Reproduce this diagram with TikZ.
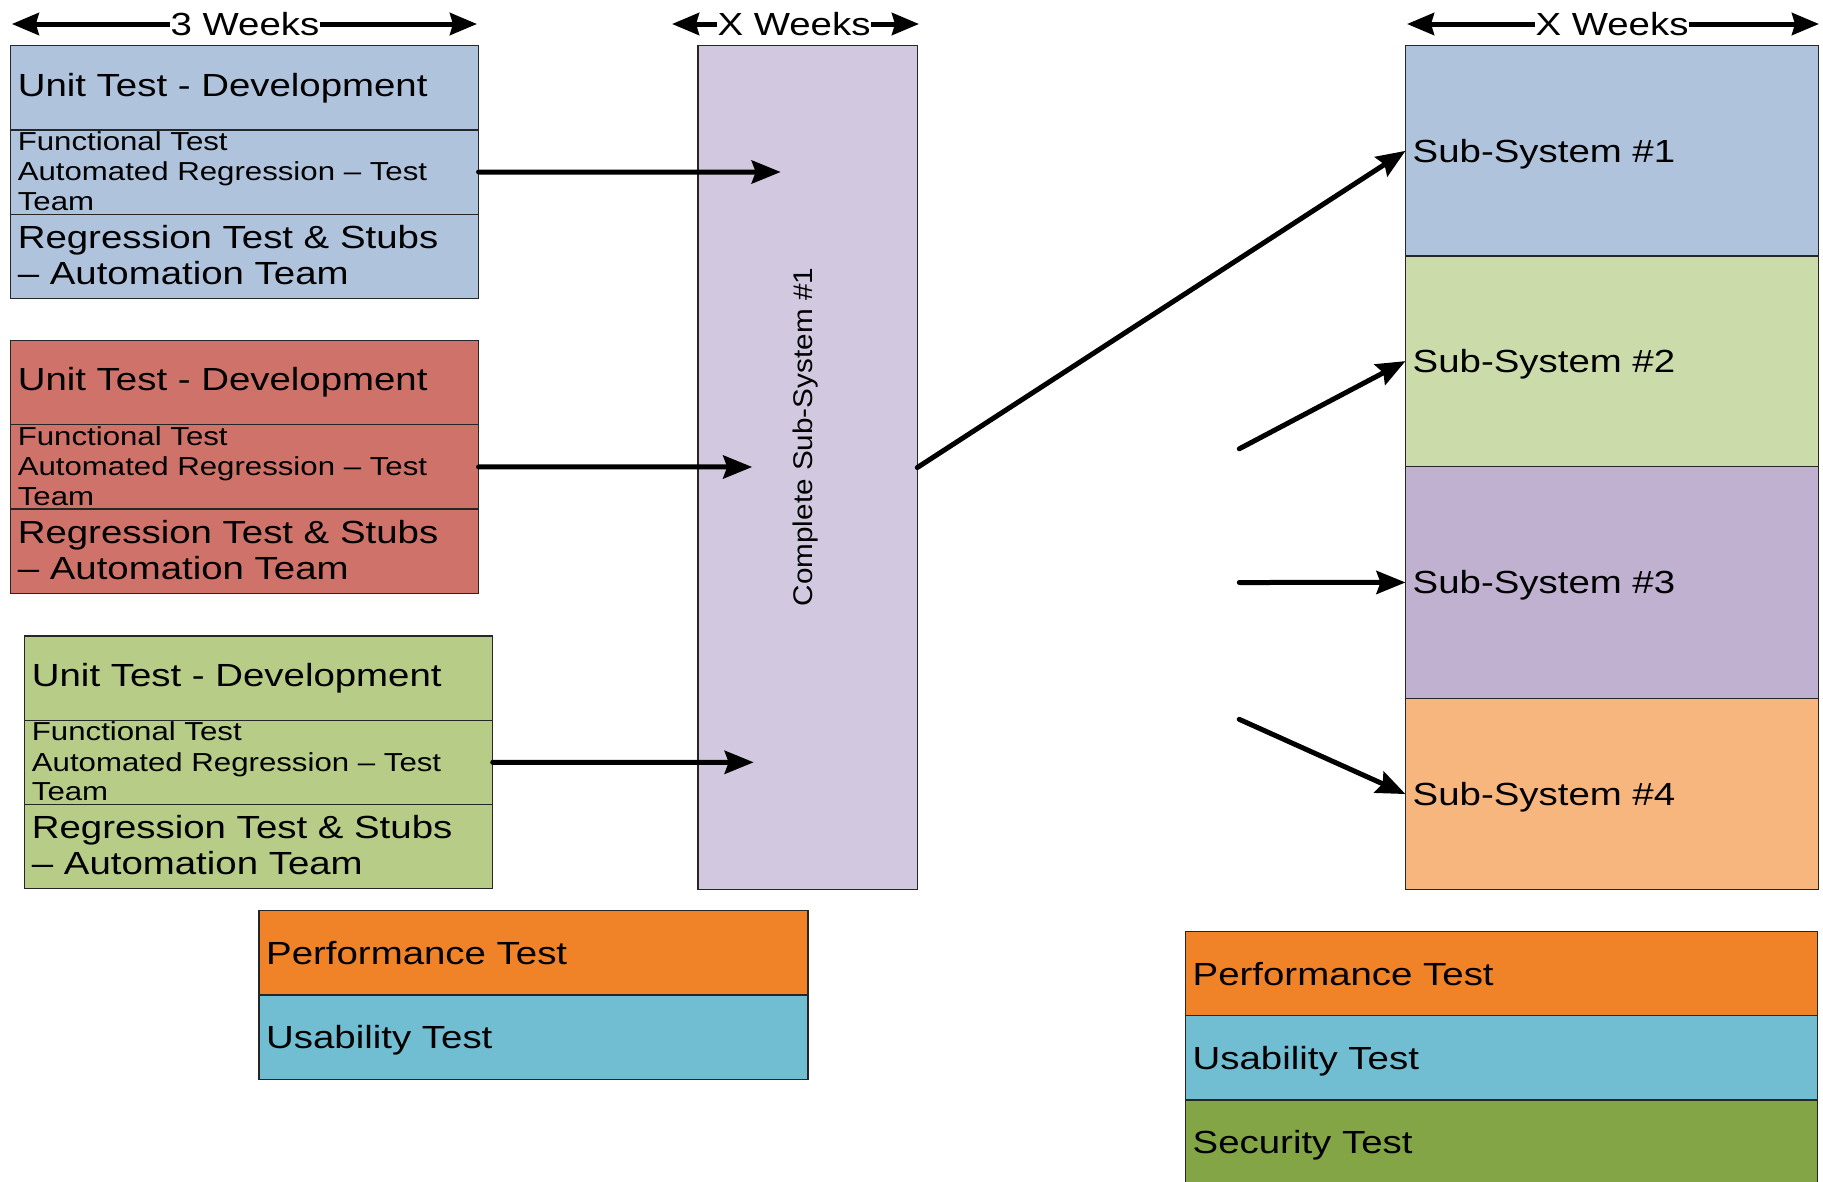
\documentclass[tikz,border=0pt]{standalone}
\usepackage{fontspec}
\setmainfont{Liberation Sans}
\newfontfamily\dfont[FakeStretch=1.2]{Liberation Sans}
\newfontfamily\rfont[FakeStretch=1.1]{Liberation Sans}
\usetikzlibrary{arrows.meta,calc}
\definecolor{cblue}{HTML}{AFC3DC}
\definecolor{cred}{HTML}{CF736A}
\definecolor{cgreen}{HTML}{B7CC87}
\definecolor{cpurple}{HTML}{D2C9E0}
\definecolor{sgreen}{HTML}{CCDBAA}
\definecolor{spurple}{HTML}{C0B1D1}
\definecolor{sorange}{HTML}{F8B67F}
\definecolor{porange}{HTML}{F08227}
\definecolor{ucyan}{HTML}{71BED3}
\definecolor{sgreen2}{HTML}{83A545}
\tikzset{
  box/.style={draw=black!85, line width=1.2pt, inner sep=0pt, outer sep=0pt, anchor=north west},
  bigtxt/.style={inner sep=0pt, anchor=base west, font=\dfont\fontsize{32}{38}\selectfont},
  smalltxt/.style={inner sep=0pt, anchor=base west, font=\dfont\fontsize{26}{30}\selectfont},
  hdrtxt/.style={inner sep=0pt, font=\dfont\fontsize{32}{38}\selectfont},
  rottxt/.style={inner sep=0pt, rotate=90, font=\rfont\fontsize{27}{32}\selectfont},
  arr/.style={line width=5pt, line cap=round, -{Stealth[length=29pt,width=23pt,inset=4pt]}},
  harr/.style={line width=5pt, -{Stealth[length=27pt,width=22pt,inset=3pt]}},
}
\newcommand\testgroup[4]{%
  \node[box, fill=#4, minimum width=468pt, minimum height=84.2pt] (#1a) at (#2,#3) {};
  \node[box, fill=#4, minimum width=468pt, minimum height=84.2pt] (#1b) at (#1a.south west) {};
  \node[box, fill=#4, minimum width=468pt, minimum height=84.2pt] (#1c) at (#1b.south west) {};
  \node[bigtxt] (#1t1) at ($(#1a.north west)+(7,50.3)$) {Unit Test - Development};
  \node[smalltxt] (#1t2) at ($(#1b.north west)+(7,20.5)$) {Functional Test};
  \node[smalltxt] (#1t3) at ($(#1b.north west)+(7,50.8)$) {Automated Regression – Test};
  \node[smalltxt] (#1t4) at ($(#1b.north west)+(7,80.5)$) {Team};
  \node[bigtxt] (#1t5) at ($(#1c.north west)+(7,34.3)$) {Regression Test \& Stubs};
  \node[bigtxt] (#1t6) at ($(#1c.north west)+(7,70.3)$) {– Automation Team};
}
\begin{document}
\begin{tikzpicture}[x=1pt, y=-1pt]
\useasboundingbox (0,0) rectangle (1823,1181);
\fill[white] (0,0) rectangle (1823,1181);

% headers
\node[hdrtxt] (h1) at (245,24) {3 Weeks};
\coordinate (h1l) at (11.8,24);
\coordinate (h1r) at (477,24);
\draw[harr] (h1.west) -- (h1l);
\draw[harr] (h1.east) -- (h1r);

\node[hdrtxt] (h2) at (794,24) {X Weeks};
\coordinate (h2l) at (672,24);
\coordinate (h2r) at (919,24);
\draw[harr] (h2.west) -- (h2l);
\draw[harr] (h2.east) -- (h2r);

\node[hdrtxt] (h3) at (1612,24) {X Weeks};
\coordinate (h3l) at (1407,24);
\coordinate (h3r) at (1819,24);
\draw[harr] (h3.west) -- (h3l);
\draw[harr] (h3.east) -- (h3r);

% left groups
\testgroup{g1}{10.6}{45.7}{cblue}
\testgroup{g2}{10.6}{340.6}{cred}
\testgroup{g3}{24.7}{636}{cgreen}

% complete sub-system
\node[box, fill=cpurple, minimum width=219.3pt, minimum height=843.7pt] (cs) at (698,45.7) {};
\node[rottxt] (cst) at (806,437) {Complete Sub-System \#1};

\coordinate (e1) at (780.7,172);
\coordinate (e2) at (752.2,467);
\coordinate (e3) at (753.7,762.3);
\draw[arr] (g1b.east) -- (e1);
\draw[arr] (g2b.east) -- (e2);
\draw[arr] (g3b.east) -- (e3);

% sub-systems
\node[box, fill=cblue, minimum width=413pt, minimum height=210.3pt] (s1) at (1405.5,45.7) {};
\node[box, fill=sgreen, minimum width=413pt, minimum height=210.2pt] (s2) at (s1.south west) {};
\node[box, fill=spurple, minimum width=413pt, minimum height=232.5pt] (s3) at (s2.south west) {};
\node[box, fill=sorange, minimum width=413pt, minimum height=190.7pt] (s4) at (s3.south west) {};
\node[bigtxt] (s1t) at ($(s1.west)+(7,11.5)$) {Sub-System \#1};
\node[bigtxt] (s2t) at ($(s2.west)+(7,11.5)$) {Sub-System \#2};
\node[bigtxt] (s3t) at ($(s3.west)+(7,11.5)$) {Sub-System \#3};
\node[bigtxt] (s4t) at ($(s4.west)+(7,11.5)$) {Sub-System \#4};

\coordinate (a2s) at (1239.3,448.8);
\coordinate (a3s) at (1239.3,582.5);
\coordinate (a4s) at (1239.2,719.3);
\draw[arr] (cs.east) -- (s1.west);
\draw[arr] (a2s) -- (s2.west);
\draw[arr] (a3s) -- (s3.west);
\draw[arr] (a4s) -- (s4.west);

% bottom left
\node[box, fill=porange, minimum width=549pt, minimum height=84.4pt] (p1) at (259,910.6) {};
\node[box, fill=ucyan, minimum width=549pt, minimum height=84.4pt] (u1) at (p1.south west) {};
\node[bigtxt] (p1t) at ($(p1.west)+(7,11.5)$) {Performance Test};
\node[bigtxt] (u1t) at ($(u1.west)+(7,11.5)$) {Usability Test};

% bottom right
\node[box, fill=porange, minimum width=632pt, minimum height=84.2pt] (p2) at (1185.5,931.5) {};
\node[box, fill=ucyan, minimum width=632pt, minimum height=84.2pt] (u2) at (p2.south west) {};
\node[box, fill=sgreen2, minimum width=632pt, minimum height=84.2pt] (x2) at (u2.south west) {};
\node[bigtxt] (p2t) at ($(p2.west)+(7,11.5)$) {Performance Test};
\node[bigtxt] (u2t) at ($(u2.west)+(7,11.5)$) {Usability Test};
\node[bigtxt] (x2t) at ($(x2.west)+(7,11.5)$) {Security Test};
\end{tikzpicture}
\end{document}
